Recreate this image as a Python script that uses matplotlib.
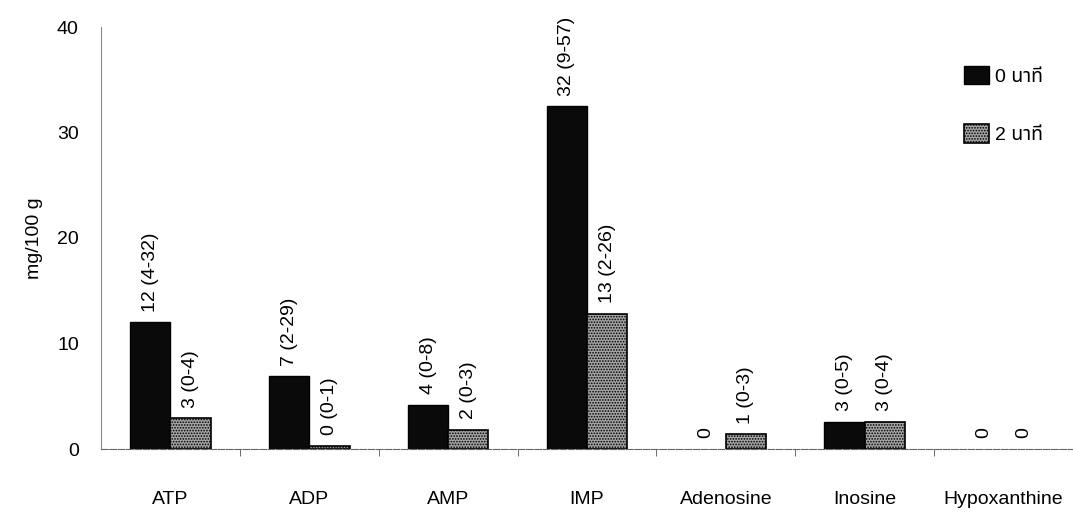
import matplotlib
matplotlib.use("Agg")
import matplotlib.pyplot as plt
from matplotlib import font_manager
from matplotlib.ft2font import FT2Font
import numpy as np

categories = ["ATP", "ADP", "AMP", "IMP", "Adenosine", "Inosine", "Hypoxanthine"]
values_0 = [12.0, 6.9, 4.2, 32.5, 0.0, 2.6, 0.0]
values_2 = [2.9, 0.3, 1.8, 12.8, 1.4, 2.6, 0.0]
labels_0 = ["12 (4-32)", "7 (2-29)", "4 (0-8)", "32 (9-57)", "0", "3 (0-5)", "0"]
labels_2 = ["3 (0-4)", "0 (0-1)", "2 (0-3)", "13 (2-26)", "1 (0-3)", "3 (0-4)", "0"]
series_names = ["0 นาที", "2 นาที"]
y_ticks = [0, 10, 20, 30, 40]

# find a font that can render Thai
thai_family = None
names_found = []
for f in font_manager.fontManager.ttflist:
    try:
        cm = FT2Font(f.fname).get_charmap()
    except Exception:
        continue
    if 0x0E19 in cm and 0x0E35 in cm:
        names_found.append(f.name)
pref = ["Noto Sans Thai", "Noto Sans Thai UI", "Noto Sans", "Tahoma", "Loma", "Garuda"]
for p in pref:
    if p in names_found:
        thai_family = p
        break
if thai_family is None and names_found:
    thai_family = names_found[0]

base = "Liberation Sans"
fams = [base] + ([thai_family] if thai_family else []) + ["DejaVu Sans"]
plt.rcParams['font.family'] = fams
plt.rcParams['hatch.color'] = '#5a5a5a'
plt.rcParams['hatch.linewidth'] = 0.8

fig = plt.figure(figsize=(10.73, 5.12), dpi=100)
ax = fig.add_axes([101/1073, (512-449)/512, (1073-101)/1073, (449-27)/512])

x = np.arange(len(categories))
w = 0.29
ax.bar(x - w/2, values_0, w, color="#0a0a0a", edgecolor="black",
       linewidth=[1 if v > 0 else 0 for v in values_0], label=series_names[0])
ax.bar(x + w/2, values_2, w, color="#a4a4a4", edgecolor="black",
       linewidth=[1.2 if v > 0 else 0 for v in values_2],
       hatch="......", label=series_names[1])

fs = 14
for xi, v, t in zip(x - w/2, values_0, labels_0):
    ax.text(xi, v + 1.0, t, rotation=90, ha="center", va="bottom", fontsize=fs)
for xi, v, t in zip(x + w/2, values_2, labels_2):
    ax.text(xi, v + 1.0, t, rotation=90, ha="center", va="bottom", fontsize=fs)

ax.set_xlim(-0.5, len(categories) - 0.5)
ax.set_ylim(0, 40)
ax.set_yticks(y_ticks)
ax.tick_params(axis="y", labelsize=fs, length=0, pad=16)
ax.set_xticks(x)
ax.set_xticklabels(categories, fontsize=fs)
ax.tick_params(axis="x", length=0, pad=30)
ax.set_xticks(np.arange(len(categories) - 1) + 0.5, minor=True)
ax.tick_params(axis="x", which="minor", length=5, color="#555555", direction="out")
ax.set_ylabel("mg/100 g", fontsize=fs)
ax.yaxis.set_label_coords(-58/972, 0.5)
for s in ["top", "right"]:
    ax.spines[s].set_visible(False)
ax.spines["left"].set_color("#888888")
ax.spines["left"].set_linewidth(0.8)
ax.spines["bottom"].set_color("#666666")
ax.spines["bottom"].set_linewidth(0.8)
ax.spines["bottom"].set_linestyle((0, (6, 1.5)))

leg = ax.legend(loc="upper right", bbox_to_anchor=(0.987, 0.95), frameon=False, fontsize=fs,
                handlelength=1.3, handleheight=1.1, handletextpad=0.3, labelspacing=2.0)

fig.savefig("out.png", dpi=100)
